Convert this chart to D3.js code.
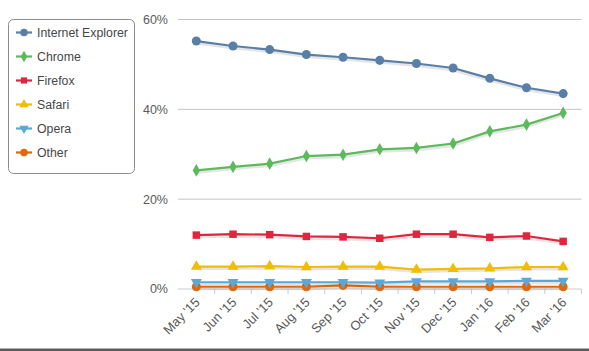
<!DOCTYPE html>
<html lang="en">
<head>
    <meta charset="UTF-8">
    <title>Browser share</title>
    <script src="https://d3js.org/d3.v7.min.js"></script>
    <style>
        body { margin: 0; background: #fff; }
        text { font-family: "Liberation Sans", Arial, sans-serif; }
    </style>
</head>
<body>
    <svg id="chart" width="589" height="351"></svg>

    <script>
        // Month labels on the category axis
        const months = ["May '15", "Jun '15", "Jul '15", "Aug '15", "Sep '15", "Oct '15",
                        "Nov '15", "Dec '15", "Jan '16", "Feb '16", "Mar '16"];

        // Share values (%)
        const ieValues      = [55.2, 54.1, 53.3, 52.2, 51.6, 50.9, 50.2, 49.2, 46.9, 44.8, 43.5];
        const chromeValues  = [26.4, 27.2, 27.9, 29.6, 29.9, 31.1, 31.4, 32.4, 35.1, 36.6, 39.2];
        const firefoxValues = [12.0, 12.2, 12.1, 11.7, 11.6, 11.3, 12.2, 12.2, 11.5, 11.8, 10.6];
        const safariValues  = [5.0, 5.0, 5.1, 4.9, 5.0, 5.0, 4.3, 4.5, 4.6, 4.9, 4.9];
        const operaValues   = [1.5, 1.5, 1.5, 1.5, 1.5, 1.4, 1.7, 1.7, 1.7, 1.8, 1.8];
        const otherValues   = [0.5, 0.5, 0.5, 0.5, 0.8, 0.5, 0.5, 0.5, 0.5, 0.5, 0.5];

        const yTicks = [0, 20, 40, 60];

        const series = [
            { name: 'Internet Explorer', values: ieValues,      color: '#5a7fa6', symbol: 'circle' },
            { name: 'Chrome',            values: chromeValues,  color: '#5cba5c', symbol: 'diamond' },
            { name: 'Firefox',           values: firefoxValues, color: '#e0263e', symbol: 'square' },
            { name: 'Safari',            values: safariValues,  color: '#f1bd00', symbol: 'triangle' },
            { name: 'Opera',             values: operaValues,   color: '#5ba7d6', symbol: 'triangleDown' },
            { name: 'Other',             values: otherValues,   color: '#e2680a', symbol: 'circle' }
        ];

        const svg = d3.select('#chart');
        const margin = { left: 178, right: 7.5, top: 19.5, bottom: 62 };
        const width = 589 - margin.left - margin.right;
        const height = 289 - margin.top;

        const x = d3.scaleBand().domain(months).range([0, width]);
        const y = d3.scaleLinear().domain([0, 60]).range([height, 0]);

        const g = svg.append('g').attr('transform', `translate(${margin.left},${margin.top})`);

        // Grid lines
        g.selectAll('.grid')
            .data(yTicks.filter(d => d > 0))
            .enter().append('line')
            .attr('x1', 0).attr('x2', width)
            .attr('y1', d => y(d)).attr('y2', d => y(d))
            .attr('stroke', '#c4c4c4')
            .attr('stroke-width', 1);

        // Y labels
        g.selectAll('.ylab')
            .data(yTicks)
            .enter().append('text')
            .attr('x', -10)
            .attr('y', d => y(d))
            .attr('dy', '0.35em')
            .attr('text-anchor', 'end')
            .attr('fill', '#5a5a5a')
            .style('font-size', '12.5px')
            .text(d => d + '%');

        // X axis line and ticks on band edges
        g.append('line')
            .attr('x1', 0).attr('x2', width)
            .attr('y1', height).attr('y2', height)
            .attr('stroke', '#c6ced6');

        const edges = months.map(m => x(m)).concat([width]);
        g.selectAll('.xtick')
            .data(edges.slice(1))
            .enter().append('line')
            .attr('x1', d => d).attr('x2', d => d)
            .attr('y1', height).attr('y2', height + 5)
            .attr('stroke', '#c6ced6');

        g.selectAll('.xlab')
            .data(months)
            .enter().append('text')
            .attr('transform', d => `translate(${x(d) + x.bandwidth() / 2 + 1},${height + 11}) rotate(-45)`)
            .attr('text-anchor', 'end')
            .attr('dy', '0.35em')
            .attr('fill', '#5a5a5a')
            .style('font-size', '13px')
            .text(d => d);

        function symbolPath(kind, size) {
            const types = {
                circle: d3.symbolCircle,
                diamond: d3.symbolDiamond,
                square: d3.symbolSquare,
                triangle: d3.symbolTriangle,
                triangleDown: d3.symbolTriangle
            };
            return d3.symbol().type(types[kind]).size(size)();
        }
        function symbolRotate(kind) {
            return kind === 'triangleDown' ? ' rotate(180)' : '';
        }

        const line = d3.line()
            .x((d, i) => x(months[i]) + x.bandwidth() / 2)
            .y(d => y(d));

        // draw from the bottom series up so the top ones overlap
        series.slice().reverse().forEach(s => {
            // soft shadow
            g.append('path')
                .datum(s.values)
                .attr('fill', 'none')
                .attr('stroke', 'rgba(0,0,0,0.10)')
                .attr('stroke-width', 3)
                .attr('transform', 'translate(0,2)')
                .attr('d', line);

            g.append('path')
                .datum(s.values)
                .attr('fill', 'none')
                .attr('stroke', s.color)
                .attr('stroke-width', 2.2)
                .attr('stroke-linejoin', 'round')
                .attr('d', line);

            const size = s.symbol === 'circle' ? 64 : (s.symbol === 'square' ? 56 : (s.symbol === 'diamond' ? 46 : 52));
            g.selectAll(null)
                .data(s.values)
                .enter().append('path')
                .attr('d', symbolPath(s.symbol, size))
                .attr('transform', (d, i) => `translate(${x(months[i]) + x.bandwidth() / 2},${y(d)})` + symbolRotate(s.symbol))
                .attr('fill', s.color);
        });

        // Legend
        const legend = svg.append('g').attr('transform', 'translate(8.5,19.5)');
        legend.append('rect')
            .attr('width', 126).attr('height', 154)
            .attr('rx', 5).attr('ry', 5)
            .attr('fill', '#fff')
            .attr('stroke', '#8c8c8c');

        series.forEach((s, i) => {
            const item = legend.append('g').attr('transform', `translate(0,${13 + i * 24})`);
            item.append('line')
                .attr('x1', 7.5).attr('x2', 23.5)
                .attr('stroke', s.color).attr('stroke-width', 2.2);
            const size = s.symbol === 'circle' ? 45 : 38;
            item.append('path')
                .attr('d', symbolPath(s.symbol, size))
                .attr('transform', 'translate(15.5,0)' + symbolRotate(s.symbol))
                .attr('fill', s.color);
            item.append('text')
                .attr('x', 28.5)
                .attr('dy', '0.35em')
                .attr('fill', '#474747')
                .style('font-size', '12.3px')
                .text(s.name);
        });

        // dark rule along the bottom edge
        svg.append('rect')
            .attr('x', 0).attr('y', 348.5)
            .attr('width', 589).attr('height', 2.5)
            .attr('fill', '#5c5c5c');
    </script>
</body>
</html>
